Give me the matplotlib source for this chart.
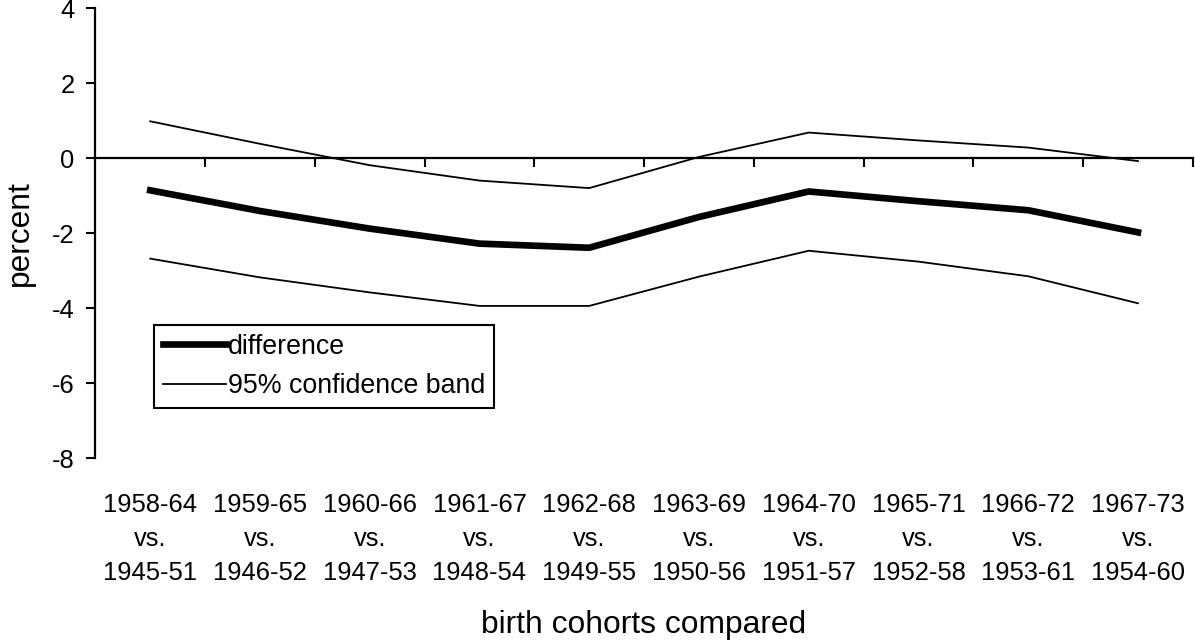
import matplotlib
matplotlib.use("Agg")
import matplotlib.pyplot as plt
import matplotlib.transforms as mtransforms

plt.rcParams['font.family'] = ['Liberation Sans', 'DejaVu Sans']

recent = ["1958-64", "1959-65", "1960-66", "1961-67", "1962-68",
          "1963-69", "1964-70", "1965-71", "1966-72", "1967-73"]
earlier = ["1945-51", "1946-52", "1947-53", "1948-54", "1949-55",
           "1950-56", "1951-57", "1952-58", "1953-61", "1954-60"]
difference = [-0.86, -1.41, -1.88, -2.28, -2.39, -1.57, -0.89, -1.15, -1.39, -1.98]
upper = [0.98, 0.38, -0.19, -0.60, -0.80, 0.03, 0.68, 0.47, 0.28, -0.08]
lower = [-2.68, -3.18, -3.58, -3.94, -3.94, -3.16, -2.47, -2.76, -3.15, -3.87]
yticks = [4, 2, 0, -2, -4, -6, -8]

fs = 18.4
fig = plt.figure(figsize=(11.95, 6.4), dpi=100)
ax = fig.add_axes([0.0798, 0.284, 0.9184, 0.7035])

x = list(range(len(recent)))
ax.plot(x, difference, color='black', lw=4.8, solid_joinstyle='miter', label='difference')
ax.plot(x, upper, color='black', lw=1.3, label='95% confidence band')
ax.plot(x, lower, color='black', lw=1.3)

ax.set_xlim(-0.5, len(recent) - 0.5)
ax.set_ylim(-8, 4)
ax.set_yticks(yticks)
ax.set_yticklabels([str(v) for v in yticks], fontsize=fs)
ax.tick_params(axis='y', direction='out', length=6.5, width=1.5, pad=8.6)

ax.spines['top'].set_visible(False)
ax.spines['right'].set_visible(False)
ax.spines['left'].set_linewidth(1.6)
ax.spines['bottom'].set_position(('data', 0))
ax.spines['bottom'].set_linewidth(1.6)
ax.set_xticks([i + 0.5 for i in x])
ax.set_xticklabels([])
ax.tick_params(axis='x', direction='out', length=6.5, width=1.5)

trans = mtransforms.blended_transform_factory(ax.transData, fig.transFigure)
for i, (a, b) in enumerate(zip(recent, earlier)):
    ax.text(i, 1 - 493.5 / 640, f"{a}\nvs.\n{b}", transform=trans, ha='center', va='top',
            fontsize=fs, linespacing=1.5)

fig.text((0.0798 + 0.998) / 2, 1 - 633 / 640, "birth cohorts compared", ha='center',
         va='baseline', fontsize=22.9)
fig.text(20 / 1195, 1 - 233 / 640, "percent", rotation=90, ha='center', va='center',
         fontsize=22.9)

leg = ax.legend(loc='upper left', bbox_to_anchor=(154 / 1195, 1 - 325 / 640),
                bbox_transform=fig.transFigure, fontsize=19.3, frameon=True, fancybox=False,
                framealpha=1, handlelength=2.35, handletextpad=0.08, borderpad=0.33,
                labelspacing=0.5, borderaxespad=0)
leg.get_frame().set_edgecolor('black')
leg.get_frame().set_linewidth(1.5)

fig.savefig("out.png", dpi=100)
